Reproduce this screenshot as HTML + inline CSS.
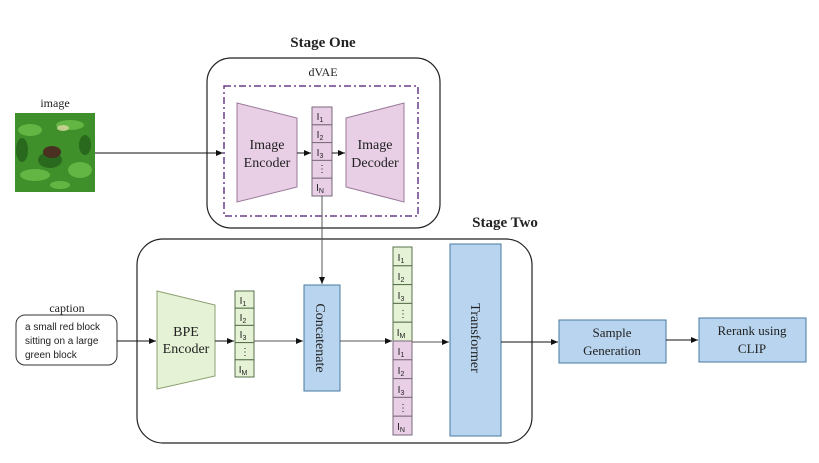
<!DOCTYPE html>
<html><head><meta charset="utf-8"><style>
html,body{margin:0;padding:0;background:#fff;}
svg{display:block;}
text{font-family:"Liberation Serif",serif;fill:#222;}
.s, .s text{font-family:"Liberation Sans",sans-serif;}
</style></head><body>
<svg width="819" height="463" viewBox="0 0 819 463" xmlns="http://www.w3.org/2000/svg">
<defs>
<marker id="a" markerWidth="8" markerHeight="8" refX="7" refY="4" orient="auto" markerUnits="userSpaceOnUse"><path d="M0,1 L7,4 L0,7 z" fill="#111"/></marker>
</defs>
<text x="323" y="47" font-size="15" font-weight="bold" text-anchor="middle">Stage One</text>
<rect x="207" y="58" width="233" height="170" rx="24" fill="#fff" stroke="#222" stroke-width="1.2"/>
<text x="323" y="76" font-size="12" text-anchor="middle">dVAE</text>
<rect x="224" y="86" width="194" height="130" fill="none" stroke="#6a3d8a" stroke-width="1.5" stroke-dasharray="7,3,2,3"/>
<polygon points="237,103 297,118 297,187 237,202" fill="#e8cfe6" stroke="#9a7a9a"/>
<text x="267" y="149" font-size="14" text-anchor="middle">Image</text>
<text x="267" y="167" font-size="14" text-anchor="middle">Encoder</text>
<polygon points="346,118 404,103 404,202 346,187" fill="#e8cfe6" stroke="#9a7a9a"/>
<text x="375" y="149" font-size="14" text-anchor="middle">Image</text>
<text x="375" y="167" font-size="14" text-anchor="middle">Decoder</text>
<g fill="#e8cfe6" stroke="#7a6a7a">
<rect x="312" y="107" width="20" height="17.8"/><rect x="312" y="124.8" width="20" height="17.8"/><rect x="312" y="142.6" width="20" height="17.8"/><rect x="312" y="160.4" width="20" height="17.8"/><rect x="312" y="178.2" width="20" height="17.8"/>
</g>
<g font-size="10" class="s" text-anchor="middle">
<text x="320" y="120">I<tspan font-size="7" dy="2">1</tspan></text>
<text x="320" y="138">I<tspan font-size="7" dy="2">2</tspan></text>
<text x="320" y="156">I<tspan font-size="7" dy="2">3</tspan></text>
<text x="322" y="172">⋮</text>
<text x="320" y="191">I<tspan font-size="7" dy="2">N</tspan></text>
</g>
<line x1="297" y1="153" x2="311" y2="153" stroke="#111" marker-end="url(#a)"/>
<line x1="332" y1="153" x2="345" y2="153" stroke="#111" marker-end="url(#a)"/>
<text x="55" y="107" font-size="12" text-anchor="middle">image</text>
<rect x="15" y="113" width="80" height="79" fill="#3f8f2a"/>
<g fill="#6cc04a" opacity="0.8"><ellipse cx="30" cy="130" rx="12" ry="6"/><ellipse cx="70" cy="125" rx="14" ry="5"/><ellipse cx="80" cy="170" rx="12" ry="8"/><ellipse cx="35" cy="175" rx="15" ry="6"/><ellipse cx="60" cy="185" rx="10" ry="4"/></g>
<g fill="#1f5a18" opacity="0.7"><ellipse cx="50" cy="160" rx="12" ry="8"/><ellipse cx="22" cy="150" rx="6" ry="12"/><ellipse cx="85" cy="145" rx="6" ry="10"/></g>
<ellipse cx="52" cy="152" rx="9" ry="6" fill="#4a3020"/>
<ellipse cx="63" cy="128" rx="6" ry="3" fill="#d8d8a0" opacity="0.8"/>
<line x1="95" y1="153" x2="223" y2="153" stroke="#111" marker-end="url(#a)"/>
<text x="505" y="227" font-size="15" font-weight="bold" text-anchor="middle">Stage Two</text>
<rect x="137" y="239" width="395" height="204" rx="26" fill="#fff" stroke="#222" stroke-width="1.2"/>
<line x1="322" y1="196" x2="322" y2="284" stroke="#555" marker-end="url(#a)"/>
<text x="67" y="312" font-size="12" text-anchor="middle">caption</text>
<rect x="16" y="315" width="101" height="50" rx="9" fill="#fff" stroke="#333"/>
<g class="s" font-size="10" fill="#222"><text x="25" y="330">a small red block</text><text x="25" y="344">sitting on a large</text><text x="25" y="358">green block</text></g>
<line x1="117" y1="341" x2="156" y2="341" stroke="#111" marker-end="url(#a)"/>
<polygon points="157,291 215,305 215,376 157,389" fill="#e6f2d6" stroke="#8aa070"/>
<text x="186" y="336" font-size="14" text-anchor="middle">BPE</text>
<text x="186" y="353" font-size="14" text-anchor="middle">Encoder</text>
<line x1="215" y1="341" x2="234" y2="341" stroke="#111" marker-end="url(#a)"/>
<g fill="#e6f2d6" stroke="#55704a">
<rect x="235" y="291" width="19" height="17.2"/><rect x="235" y="308.2" width="19" height="17.2"/><rect x="235" y="325.4" width="19" height="17.2"/><rect x="235" y="342.6" width="19" height="17.2"/><rect x="235" y="359.8" width="19" height="17.2"/>
</g>
<g font-size="10" class="s" text-anchor="middle">
<text x="243" y="304">I<tspan font-size="7" dy="2">1</tspan></text>
<text x="243" y="321">I<tspan font-size="7" dy="2">2</tspan></text>
<text x="243" y="338">I<tspan font-size="7" dy="2">3</tspan></text>
<text x="245" y="355">⋮</text>
<text x="243" y="373">I<tspan font-size="7" dy="2">M</tspan></text>
</g>
<line x1="254" y1="341" x2="303" y2="341" stroke="#555" marker-end="url(#a)"/>
<rect x="304" y="285" width="36" height="106" fill="#b8d4ee" stroke="#4a7aa0"/>
<text transform="translate(316,338) rotate(90)" font-size="14" text-anchor="middle">Concatenate</text>
<line x1="340" y1="341" x2="392" y2="341" stroke="#555" marker-end="url(#a)"/>
<g stroke="#55704a" fill="#e6f2d6">
<rect x="393" y="247" width="19" height="18.8"/><rect x="393" y="265.8" width="19" height="18.8"/><rect x="393" y="284.6" width="19" height="18.8"/><rect x="393" y="303.4" width="19" height="18.8"/><rect x="393" y="322.2" width="19" height="18.8"/>
</g>
<g stroke="#7a6a7a" fill="#e8cfe6">
<rect x="393" y="341" width="19" height="18.8"/><rect x="393" y="359.8" width="19" height="18.8"/><rect x="393" y="378.6" width="19" height="18.8"/><rect x="393" y="397.4" width="19" height="18.8"/><rect x="393" y="416.2" width="19" height="18.8"/>
</g>
<g font-size="10" class="s" text-anchor="middle">
<text x="401" y="261">I<tspan font-size="7" dy="2">1</tspan></text>
<text x="401" y="280">I<tspan font-size="7" dy="2">2</tspan></text>
<text x="401" y="299">I<tspan font-size="7" dy="2">3</tspan></text>
<text x="403" y="317">⋮</text>
<text x="401" y="336">I<tspan font-size="7" dy="2">M</tspan></text>
<text x="401" y="355">I<tspan font-size="7" dy="2">1</tspan></text>
<text x="401" y="374">I<tspan font-size="7" dy="2">2</tspan></text>
<text x="401" y="393">I<tspan font-size="7" dy="2">3</tspan></text>
<text x="403" y="411">⋮</text>
<text x="401" y="430">I<tspan font-size="7" dy="2">N</tspan></text>
</g>
<line x1="412" y1="342" x2="449" y2="342" stroke="#555" marker-end="url(#a)"/>
<rect x="450" y="244" width="51" height="192" fill="#b8d4ee" stroke="#4a7aa0"/>
<text transform="translate(471,338) rotate(90)" font-size="14" text-anchor="middle">Transformer</text>
<line x1="501" y1="342" x2="558" y2="342" stroke="#111" marker-end="url(#a)"/>
<rect x="559" y="320" width="107" height="43" fill="#b8d4ee" stroke="#4a7aa0"/>
<text x="612" y="337" font-size="13" text-anchor="middle">Sample</text>
<text x="612" y="355" font-size="13" text-anchor="middle">Generation</text>
<line x1="666" y1="340" x2="698" y2="340" stroke="#111" marker-end="url(#a)"/>
<rect x="699" y="318" width="107" height="44" fill="#b8d4ee" stroke="#4a7aa0"/>
<text x="752" y="335" font-size="13" text-anchor="middle">Rerank using</text>
<text x="752" y="353" font-size="13" text-anchor="middle">CLIP</text>
</svg>
</body></html>
